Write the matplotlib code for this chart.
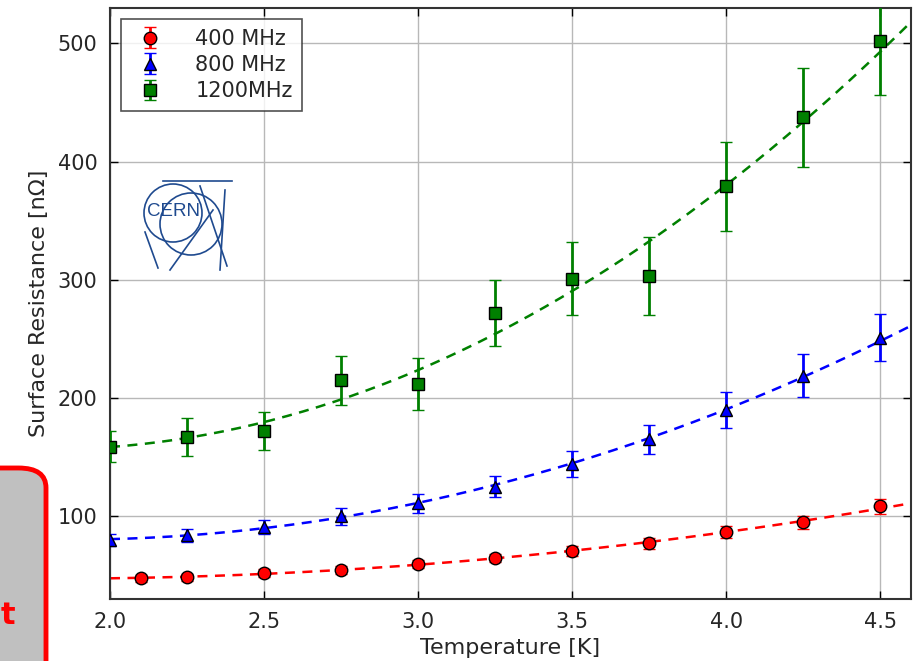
import numpy as np
import matplotlib
matplotlib.use("Agg")
import matplotlib.pyplot as plt
from matplotlib.patches import Ellipse, FancyBboxPatch
from matplotlib.lines import Line2D

plt.rcParams['font.family'] = ['DejaVu Sans']

# --- data ---
temp_400 = [2.1, 2.25, 2.5, 2.75, 3.0, 3.25, 3.5, 3.75, 4.0, 4.25, 4.5]
rs_400 = [47.7, 48.5, 52, 54.5, 59.5, 64.5, 70.5, 77, 87, 95, 108.5]
err_400 = [3, 3, 3, 3, 3.5, 3.5, 4, 4.5, 5, 5.5, 6.5]

temp_800 = [2.0, 2.25, 2.5, 2.75, 3.0, 3.25, 3.5, 3.75, 4.0, 4.25, 4.5]
rs_800 = [80, 84, 91, 100, 111, 125, 144, 165, 190, 219, 251]
err_800 = [5, 5.5, 6, 7, 8, 9, 11, 12.5, 15, 18, 20]

temp_1200 = [2.0, 2.25, 2.5, 2.75, 3.0, 3.25, 3.5, 3.75, 4.0, 4.25, 4.5]
rs_1200 = [159, 167, 172, 215, 212, 272, 301, 303, 379, 437.5, 502]
err_1200 = [13, 16, 16, 21, 22, 28, 31, 33, 38, 42, 46]

labels = ["400 MHz", "800 MHz", "1200MHz"]
xticks = [2.0, 2.5, 3.0, 3.5, 4.0, 4.5]
yticks = [100, 200, 300, 400, 500]

W, H = 916, 661
fig = plt.figure(figsize=(W / 100, H / 100), dpi=100)
ax = fig.add_axes([110 / W, 1 - 599 / H, 801 / W, 591 / H])

series = [
    (temp_400, rs_400, err_400, "#ff0000", "o", labels[0]),
    (temp_800, rs_800, err_800, "#0000ff", "^", labels[1]),
    (temp_1200, rs_1200, err_1200, "#008000", "s", labels[2]),
]

tfit = np.linspace(2.0, 4.6, 200)
handles = []
for t, r, e, c, m, lab in series:
    # quadratic fit through the measured points
    coef = np.polyfit(t, r, 2, w=1 / np.array(e))
    ax.plot(tfit, np.polyval(coef, tfit), linestyle=(0, (4, 3)), color=c, lw=1.8, zorder=2)
    h = ax.errorbar(t, r, yerr=e, fmt=m, color=c, mfc=c, mec="black", mew=1.0,
                    ms=9, ecolor=c, elinewidth=2, capsize=4, capthick=1.5,
                    zorder=3, label=lab)
    handles.append(h)

ax.set_xlim(2.0, 4.6)
ax.set_ylim(30, 530)
ax.set_xticks(xticks)
ax.set_yticks(yticks)
ax.grid(True, color="0.72", lw=1.0, linestyle="-")
ax.set_axisbelow(True)
ax.tick_params(direction="in", top=True, right=True, length=6, width=1,
               labelsize=15, labelcolor="0.15", pad=9)
for s in ax.spines.values():
    s.set_color("0.2")
    s.set_linewidth(1.5)

ax.set_xlabel("Temperature [K]", fontsize=16, color="0.15", labelpad=5)
ax.set_ylabel("Surface Resistance [n\u03a9]", fontsize=16, color="0.15", labelpad=6)

leg = ax.legend(handles=handles, loc="upper left", fontsize=15, numpoints=1,
                frameon=True, fancybox=False, borderpad=0.45, handlelength=1.8,
                handletextpad=1.3, labelspacing=0.3, borderaxespad=0.55)
leg.get_frame().set_edgecolor("0.15")
leg.get_frame().set_linewidth(1.2)
for txt in leg.get_texts():
    txt.set_color("0.15")

# --- CERN logo (drawn in figure fractions from pixel positions) ---
logo_c = "#1f4a8f"
def px(x, y):
    return x / W, 1 - y / H

cx, cy = px(173, 213)
fig.add_artist(Ellipse((cx, cy), 58 / W, 58 / H, fill=False, ec=logo_c, lw=1.2))
cx2, cy2 = px(191, 224)
fig.add_artist(Ellipse((cx2, cy2), 62 / W, 62 / H, fill=False, ec=logo_c, lw=1.2))
for (x0, y0, x1, y1) in [(163, 181, 232, 181), (225, 190, 220, 270),
                         (200, 186, 227, 266), (145, 232, 158, 268),
                         (170, 270, 213, 210)]:
    a, b = px(x0, y0)
    c2, d = px(x1, y1)
    fig.add_artist(Line2D([a, c2], [b, d], color=logo_c, lw=1.2))
fig.text(cx, cy + 1 / H, "CERN", fontsize=13.5, color=logo_c, ha="center", va="center",
         family="Liberation Sans")

# --- partial overlay box at bottom left ---
bx, by = px(-120, 700)
box = FancyBboxPatch((bx, by), (120 + 46) / W, (700 - 468) / H,
                     boxstyle="round,pad=0,rounding_size=0.03",
                     transform=fig.transFigure, fc="#c0c0c0", ec="#ff0000", lw=3.5,
                     clip_on=False)
fig.add_artist(box)
tx, ty = px(1, 616)
fig.text(tx, ty, "t", fontsize=22, fontweight="bold", color="#ff0000",
         ha="left", va="center")

fig.savefig("out.png", dpi=100)
